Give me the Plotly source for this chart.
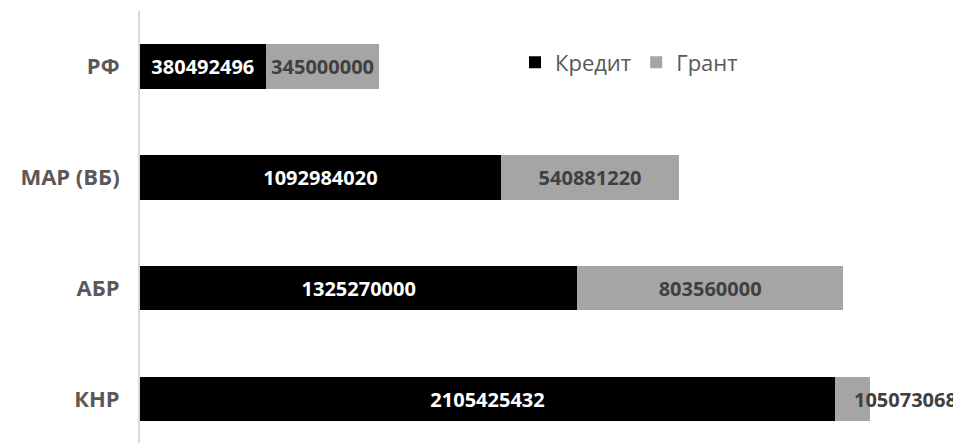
import plotly.graph_objects as go

categories = ["РФ", "МАР (ВБ)", "АБР", "КНР"]
credit = [380492496, 1092984020, 1325270000, 2105425432]
grant = [345000000, 540881220, 803560000, 105073068]
series_names = ["Кредит", "Грант"]

FONT = "Open Sans"
OFF = 8  # page body margin
W, H = 961 - OFF, 443 - OFF
left, right, top, bottom = 140 - OFF, 4, 10.5 - OFF, 0

credit_text = [str(v) for v in credit]
grant_text = [str(v) for v in grant]
# last grant segment is too narrow: label drawn beside it as annotation
grant_pos = ["inside", "inside", "inside", "none"]

fig = go.Figure()
fig.add_trace(go.Bar(
    y=categories, x=credit, orientation="h", name=series_names[0],
    marker=dict(color="#000000", line=dict(width=0)),
    text=credit_text, textposition="inside", insidetextanchor="middle",
    textfont=dict(family=FONT, size=20, color="#ffffff", weight="bold"),
    width=0.4, hoverinfo="skip",
))
fig.add_trace(go.Bar(
    y=categories, x=grant, orientation="h", name=series_names[1],
    marker=dict(color="#a5a5a5", line=dict(width=0)),
    text=grant_text, textposition=grant_pos, insidetextanchor="middle",
    textfont=dict(family=FONT, size=20, color="#404040", weight="bold"),
    width=0.4, hoverinfo="skip",
))

i = 3
fig.add_annotation(
    x=credit[i] + grant[i] / 2, y=categories[i], text=grant_text[i],
    showarrow=False, xanchor="left", yanchor="middle",
    font=dict(family=FONT, size=20, color="#404040", weight="bold"),
)

pw = W - left - right
ph = H - top - bottom
xmax = 2105425432 * pw / 695.0

fig.update_layout(
    width=W, height=H,
    margin=dict(l=left, r=right, t=top, b=bottom, pad=0),
    barmode="stack",
    paper_bgcolor="white", plot_bgcolor="white",
    uniformtext=dict(minsize=20, mode="show"),
    showlegend=True,
    legend=dict(
        orientation="h", x=(515 - 140) / pw, y=1 - (62 - 10.5) / ph,
        xanchor="left", yanchor="middle",
        font=dict(family=FONT, size=22, color="#595959"),
        traceorder="normal", itemwidth=30, bgcolor="rgba(0,0,0,0)",
    ),
    xaxis=dict(range=[0, xmax], showgrid=False, zeroline=False, showticklabels=False,
               showline=False, fixedrange=True),
    yaxis=dict(type="category", categoryorder="array", categoryarray=categories,
               range=[3.396, -0.5], showgrid=False, zeroline=False,
               showline=True, linecolor="#d9d9d9", linewidth=2,
               ticks="", ticklabelstandoff=14,
               tickfont=dict(family=FONT, size=22, color="#595959", weight="bold")),
    font=dict(family=FONT),
)

fig.write_html("out.html")
